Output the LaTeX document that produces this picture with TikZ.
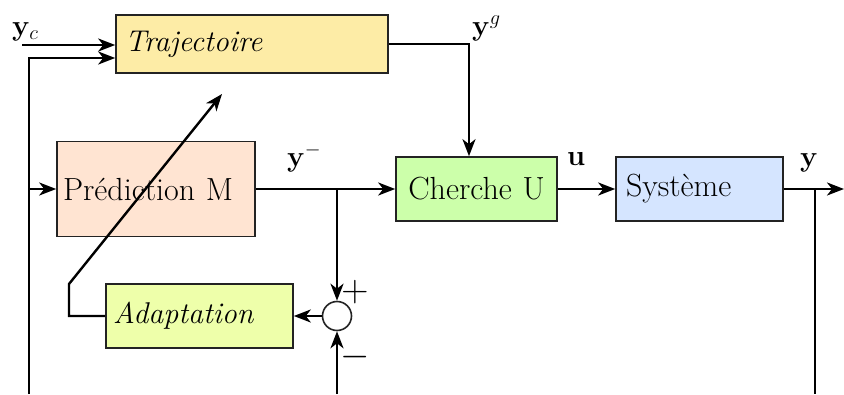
\RequirePackage{fix-cm}
\documentclass[tikz,border=0pt]{standalone}
\usetikzlibrary{arrows.meta,calc}
\definecolor{ctraj}{RGB}{253,236,166}
\definecolor{cpred}{RGB}{255,228,210}
\definecolor{ccher}{RGB}{204,255,170}
\definecolor{csys}{RGB}{213,229,255}
\definecolor{cadap}{RGB}{238,255,170}
\definecolor{cbord}{RGB}{35,35,35}
\begin{document}
\begin{tikzpicture}[x=1pt,y=-1pt,
  every node/.style={font=\fontsize{32}{38}\selectfont},
  itf/.style={font=\fontsize{30}{36}\selectfont\itshape},
  blk/.style={draw=cbord,line width=1.6pt,inner ysep=0pt,align=left},
  arr/.style={line width=2.4pt,-{Stealth[length=17pt,width=13pt,inset=5pt]}},
  ln/.style={line width=2.4pt},
  lbl/.style={anchor=base west,inner sep=0pt,font=\fontsize{29}{34}\selectfont},
  sgn/.style={inner sep=0pt,font=\fontsize{29}{34}\selectfont}]
\useasboundingbox (0,0) rectangle (844,394);
% blocks
\node[blk,itf,fill=ctraj,inner xsep=9pt,text width=254pt,minimum height=58pt] (traj) at (252,44) {Trajectoire};
\node[blk,fill=cpred,inner xsep=6pt,text width=186pt,minimum height=95pt] (pred) at (156,189) {Prédiction M};
\node[blk,fill=ccher,inner xsep=0pt,text width=161pt,align=center,minimum height=64pt] (cher) at (476.5,189) {Cherche U};
\node[blk,fill=csys,inner xsep=10pt,text width=147pt,minimum height=64pt] (sys) at (699.5,189) {Système};
\node[blk,itf,fill=cadap,inner xsep=7pt,text width=173pt,minimum height=64pt] (adap) at (199.5,316) {Adaptation};
\node[draw=cbord,line width=1.6pt,circle,minimum size=29pt,inner sep=0pt,fill=white] (circ) at (337,316) {};
% coordinates
\coordinate (ycin) at (22,45);
\coordinate (lb) at (29,394);
\coordinate (lt) at (29,58);
\coordinate (tg) at (469,44);
\coordinate (br) at (337,189);
\coordinate (cb) at (337,394);
\coordinate (ac0) at (69,316);
\coordinate (ac1) at (69,284);
\coordinate (at) at (222,94);
\coordinate (out) at (844,189);
\coordinate (ybr) at (815,189);
\coordinate (ybb) at (815,394);
% labels
\node[lbl] (lyc) at (12,35) {$\mathbf{y}_c$};
\node[lbl] (lyg) at (472,35) {$\mathbf{y}^{\scriptstyle g}$};
\node[lbl] (lym) at (287,166) {$\mathbf{y}^-$};
\node[lbl] (lu) at (567,165) {$\mathbf{u}$};
\node[lbl] (ly) at (800,166) {$\mathbf{y}$};
\node[sgn] (lplus) at (355,292) {\scalebox{1.3}{$+$}};
\node[sgn] (lminus) at (355,357) {\scalebox{1.3}{$-$}};
% connectors
\draw[arr] (ycin) -- (ycin -| traj.west);
\draw[arr] (lb) -- (lt) -- (lt -| traj.west);
\draw[arr] (lb |- pred.west) -- (pred.west);
\draw[arr] (traj.east |- tg) -- (tg) -- (tg |- cher.north);
\draw[arr] (pred.east) -- (cher.west);
\draw[arr] (br) -- (circ.north);
\draw[arr] (cb) -- (circ.south);
\draw[arr] (circ.west) -- (adap.east);
\draw[arr] (adap.west) -- (ac0) -- (ac1) -- (at);
\draw[arr] (cher.east) -- (sys.west);
\draw[arr] (sys.east) -- (out);
\draw[ln] (ybr) -- (ybb);
\end{tikzpicture}
\end{document}
